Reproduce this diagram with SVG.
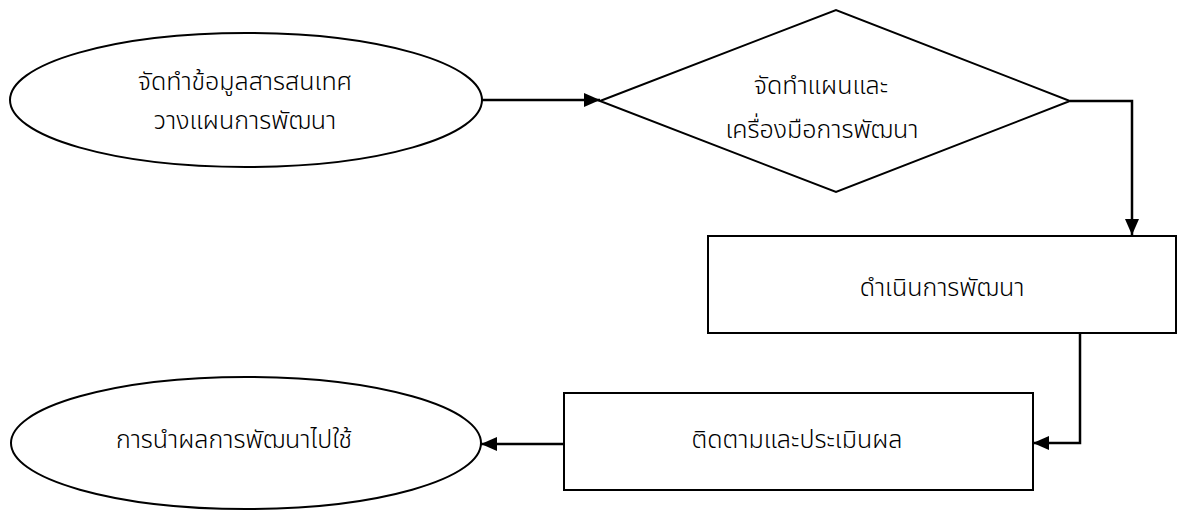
<svg xmlns="http://www.w3.org/2000/svg" width="1179" height="510" viewBox="0 0 1179 510">
<style>
.shape{fill:#fff;stroke:#000;stroke-width:2}
.conn{fill:none;stroke:#000;stroke-width:2.5}
.lbl{font-family:"Noto Sans Thai","Noto Sans","DejaVu Sans",sans-serif;font-size:25px;font-weight:300;fill:#000;text-anchor:middle;dominant-baseline:central}
</style>
<defs>
<marker id="ah" viewBox="0 0 16 14" refX="16" refY="7" markerWidth="16" markerHeight="14" markerUnits="userSpaceOnUse" orient="auto">
<path d="M0,0 L16,7 L0,14 z" fill="#000"/>
</marker>
</defs>
<rect width="1179" height="510" fill="#fff"/>
<g id="n1">
<ellipse class="shape" cx="246" cy="100" rx="236" ry="67"/>
<text class="lbl" x="245" y="82">จัดทำข้อมูลสารสนเทศ</text>
<text class="lbl" x="245" y="121">วางแผนการพัฒนา</text>
</g>
<g id="n2">
<polygon class="shape" points="600,101 836,10 1070,101 836,192"/>
<text class="lbl" x="821" y="86">จัดทำแผนและ</text>
<text class="lbl" x="822" y="130">เครื่องมือการพัฒนา</text>
</g>
<g id="n3">
<rect class="shape" x="708" y="236" width="468" height="97"/>
<text class="lbl" x="942" y="288">ดำเนินการพัฒนา</text>
</g>
<g id="n4">
<rect class="shape" x="564" y="393" width="469" height="97"/>
<text class="lbl" x="797" y="440">ติดตามและประเมินผล</text>
</g>
<g id="n5">
<ellipse class="shape" cx="246" cy="443" rx="235" ry="66"/>
<text class="lbl" x="234" y="440">การนำผลการพัฒนาไปใช้</text>
</g>
<g id="connectors">
<path class="conn" d="M482,100 L600,100" marker-end="url(#ah)"/>
<path class="conn" d="M1070,101 L1132,101 L1132,235" marker-end="url(#ah)"/>
<path class="conn" d="M1080,333 L1080,443 L1033,443" marker-end="url(#ah)"/>
<path class="conn" d="M564,444 L481,444" marker-end="url(#ah)"/>
</g>
</svg>
